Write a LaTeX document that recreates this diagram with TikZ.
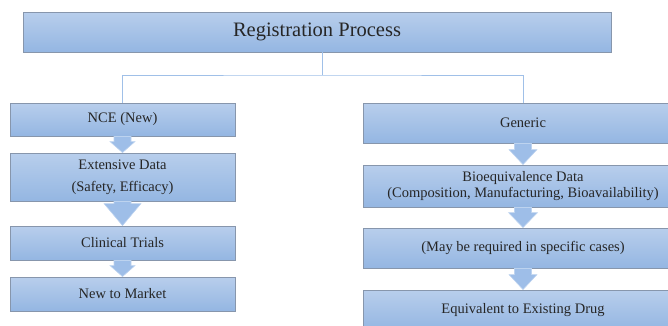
\documentclass[tikz,border=0pt]{standalone}
\usepackage{fontspec}
\setmainfont{Liberation Serif}
\usetikzlibrary{calc}
\definecolor{boxtop}{RGB}{184,206,236}
\definecolor{boxbot}{RGB}{148,182,226}
\definecolor{boxline}{RGB}{135,150,172}
\definecolor{linkblue}{RGB}{160,192,232}
\definecolor{arrowfill}{RGB}{158,190,232}
\tikzset{
  stagebox/.style={draw=boxline, line width=0.9pt, top color=boxtop, bottom color=boxbot,
    minimum width=#1, inner sep=0pt, text=black!85,
    font=\fontsize{14.5}{17}\selectfont, align=center},
  link/.style={draw=linkblue, line width=1pt},
  blockarrow/.style={fill=arrowfill, draw=linkblue!70!white, line width=0.6pt}
}
% block arrow from box #1 down to box #2, head half width #3, head length #4
\newcommand{\flowarrow}[4]{%
  \path[blockarrow] ($(#1.south)+(-8.5,0)$) -- ($(#2.north)+(-8.5,-#4)$)
    -- ($(#2.north)+(-#3,-#4)$) -- (#2.north) -- ($(#2.north)+(#3,-#4)$)
    -- ($(#2.north)+(8.5,-#4)$) -- ($(#1.south)+(8.5,0)$) -- cycle;}
\begin{document}
\begin{tikzpicture}[x=1pt, y=-1pt]
  \useasboundingbox (0,0) rectangle (668,325);
  \node[stagebox=588pt, minimum height=40pt, font=\fontsize{20.5}{24}\selectfont] (reg) at (317,32) {Registration Process};
  % left column
  \node[stagebox=225pt, minimum height=33pt] (nce) at (122.5,119.5) {NCE (New)};
  \node[stagebox=225pt, minimum height=48pt] (extdata) at (122.5,177) {Extensive Data\\[5pt](Safety, Efficacy)};
  \node[stagebox=225pt, minimum height=34pt] (trials) at (122.5,243) {Clinical Trials};
  \node[stagebox=225pt, minimum height=34pt] (market) at (122.5,294) {New to Market};
  % right column
  \node[stagebox=320pt, minimum height=40pt] (generic) at (523,123) {Generic};
  \node[stagebox=320pt, minimum height=42pt] (bioeq) at (523,186) {Bioequivalence Data\\[-1pt](Composition, Manufacturing, Bioavailability)};
  \node[stagebox=320pt, minimum height=40pt] (maybe) at (523,248) {(May be required in specific cases)};
  \node[stagebox=320pt, minimum height=40pt] (equiv) at (523,310) {Equivalent to Existing Drug};
  % tree lines
  \coordinate (split) at (322,75);
  \draw[link] (reg.south -| split) -- (split);
  \draw[link] (nce.north) |- (split) -| (generic.north);
  % arrows
  \flowarrow{nce}{extdata}{12.5}{11}
  \flowarrow{extdata}{trials}{18.5}{22}
  \flowarrow{trials}{market}{12.5}{11}
  \flowarrow{generic}{bioeq}{14}{15}
  \flowarrow{bioeq}{maybe}{14.5}{15}
  \flowarrow{maybe}{equiv}{14}{15}
\end{tikzpicture}
\end{document}
